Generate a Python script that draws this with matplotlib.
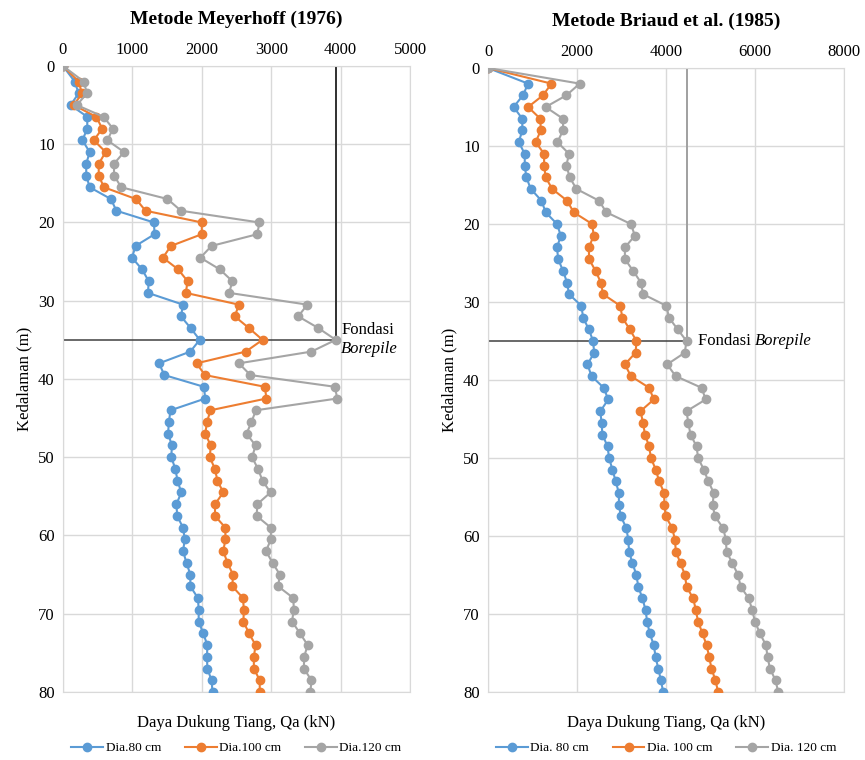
import numpy as np
import matplotlib
matplotlib.use('Agg')
import matplotlib.pyplot as plt

plt.rcParams['font.family'] = ['Liberation Serif', 'DejaVu Serif']

# depth (m): 0, then every 1.5 m from 2 to 80
depth = [0] + [2 + 1.5 * i for i in range(53)]

# Meyerhoff (1976), Qa (kN)
mey_80 = [0, 170, 225, 110, 350, 350, 280, 385, 335, 335, 385, 690, 770, 1310,
          1320, 1045, 995, 1140, 1235, 1225, 1730, 1700, 1840, 1970, 1835, 1385, 1460,
          2030, 2050, 1550, 1525, 1515, 1570, 1560, 1620, 1650, 1705, 1635, 1645, 1730,
          1755, 1730, 1780, 1835, 1835, 1945, 1955, 1955, 2020, 2080, 2075, 2080, 2140, 2155]
mey_100 = [0, 225, 275, 155, 480, 565, 445, 615, 515, 515, 590, 1050, 1190, 2000,
           2000, 1555, 1440, 1660, 1795, 1770, 2535, 2475, 2680, 2875, 2635, 1925, 2045,
           2910, 2930, 2125, 2075, 2050, 2130, 2115, 2190, 2225, 2310, 2190, 2190, 2340,
           2340, 2310, 2370, 2450, 2440, 2595, 2605, 2600, 2680, 2775, 2750, 2750, 2835, 2835]
mey_120 = [0, 300, 345, 200, 585, 720, 640, 880, 735, 735, 840, 1505, 1700, 2830,
           2800, 2140, 1980, 2260, 2440, 2395, 3520, 3390, 3680, 3930, 3580, 2535, 2700,
           3920, 3950, 2780, 2715, 2645, 2775, 2725, 2810, 2875, 2990, 2800, 2790, 2995,
           2995, 2925, 3020, 3125, 3100, 3320, 3325, 3300, 3415, 3525, 3475, 3470, 3580, 3565]

# Briaud et al. (1985), Qa (kN)
bri_80 = [0, 900, 785, 575, 770, 770, 690, 825, 825, 860, 960, 1200, 1295, 1550,
          1635, 1550, 1575, 1685, 1775, 1820, 2100, 2135, 2265, 2360, 2385, 2235, 2325,
          2600, 2700, 2525, 2550, 2570, 2685, 2720, 2795, 2870, 2940, 2940, 2985, 3110,
          3150, 3170, 3245, 3335, 3375, 3470, 3540, 3575, 3635, 3725, 3765, 3825, 3885, 3935]
bri_100 = [0, 1425, 1235, 900, 1175, 1185, 1070, 1260, 1260, 1295, 1440, 1775, 1925, 2340,
           2375, 2265, 2270, 2415, 2535, 2585, 2975, 3015, 3185, 3335, 3315, 3075, 3210,
           3620, 3725, 3425, 3485, 3525, 3620, 3660, 3770, 3845, 3960, 3960, 3995, 4140,
           4200, 4220, 4325, 4425, 4460, 4610, 4670, 4720, 4820, 4910, 4970, 5020, 5110, 5170]
bri_120 = [0, 2060, 1760, 1295, 1685, 1685, 1560, 1820, 1760, 1835, 1985, 2490, 2660, 3210,
           3300, 3075, 3075, 3260, 3435, 3485, 4010, 4065, 4260, 4460, 4420, 4025, 4215,
           4800, 4890, 4460, 4500, 4550, 4685, 4720, 4850, 4950, 5075, 5045, 5100, 5285,
           5345, 5360, 5490, 5620, 5675, 5860, 5935, 6000, 6110, 6245, 6280, 6335, 6460, 6520]

found_depth = 35
mey_found = 3930
bri_found = 4460

colors = ['#5b9bd5', '#ed7d31', '#a5a5a5']
grid_c = '#d9d9d9'

fig = plt.figure(figsize=(8.65, 7.6), dpi=100)


def panel(rect, series, labels, xmax, xstep, title, found_q, vcolor, two_line):
    ax = fig.add_axes(rect)
    for vals, lab, c in zip(series, labels, colors):
        ax.plot(vals, depth, color=c, lw=1.5, marker='o', ms=6, label=lab, zorder=3)
    ax.set_xlim(0, xmax)
    ax.set_ylim(80, 0)
    ax.set_xticks(np.arange(0, xmax + 1, xstep))
    ax.set_yticks(np.arange(0, 81, 10))
    ax.xaxis.tick_top()
    ax.tick_params(length=0, labelsize=12, pad=6)
    ax.grid(True, color=grid_c, lw=1)
    ax.set_axisbelow(True)
    for s in ax.spines.values():
        s.set_color(grid_c)
    # foundation marker lines
    ax.plot([found_q, found_q], [0, found_depth], color=vcolor, lw=1.4, zorder=2)
    ax.plot([0, found_q], [found_depth, found_depth], color='#404040', lw=1.1, zorder=2)
    if two_line:
        ax.text(found_q + 80, found_depth - 0.2, 'Fondasi', fontsize=12, va='bottom')
        ax.text(found_q + 80, found_depth + 0.2, 'Borepile', fontsize=12, va='top',
                style='italic')
    else:
        t = ax.text(found_q + 250, found_depth, 'Fondasi ', fontsize=12, va='center')
        ax.annotate('Borepile', xy=(1, 0.5), xycoords=t, va='center', ha='left',
                    fontsize=12, style='italic')
    ax.set_title(title, fontsize=14, fontweight='bold', pad=30)
    ax.set_ylabel('Kedalaman (m)', fontsize=12)
    ax.text(0.5, -0.05, 'Daya Dukung Tiang, Qa (kN)', transform=ax.transAxes,
            ha='center', va='center', fontsize=12)
    ax.legend(loc='center', bbox_to_anchor=(0.5, -0.09), ncol=3, frameon=False,
              fontsize=9.5, handlelength=2.4, columnspacing=1.8, handletextpad=0.2)
    return ax


panel([0.0728, 0.0895, 0.4012, 0.8237], [mey_80, mey_100, mey_120],
      ['Dia.80 cm', 'Dia.100 cm', 'Dia.120 cm'], 5000, 1000,
      'Metode Meyerhoff (1976)', mey_found, '#303030', True)
panel([0.5642, 0.0895, 0.4116, 0.8210], [bri_80, bri_100, bri_120],
      ['Dia. 80 cm', 'Dia. 100 cm', 'Dia. 120 cm'], 8000, 2000,
      'Metode Briaud et al. (1985)', bri_found, '#a0a0a0', False)

fig.savefig('out.png', dpi=100)
